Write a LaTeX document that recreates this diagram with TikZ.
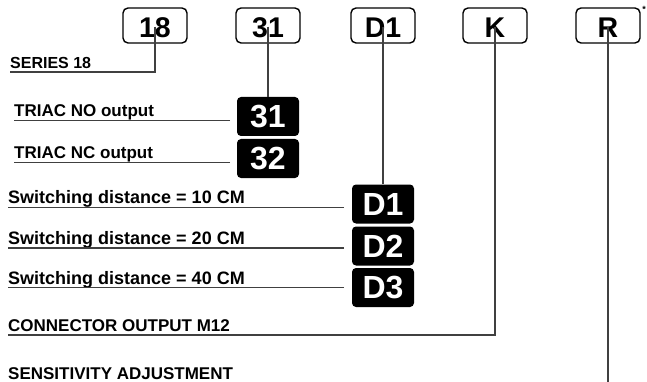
\documentclass[tikz,border=0pt]{standalone}
\usepackage{fontspec}
\setmainfont{Liberation Sans}
\newcommand{\lowr}[1]{\raisebox{-2pt}[\height][0pt]{#1}}
\begin{document}
\begin{tikzpicture}[x=1pt,y=-1pt,
  codebox/.style={draw=black,line width=1.4pt,rounded corners=5pt,minimum width=64pt,minimum height=35pt,inner sep=0pt,font=\fontsize{28.5}{28.5}\selectfont\bfseries},
  optbox/.style={fill=black,text=white,rounded corners=4pt,minimum width=62pt,minimum height=39pt,inner sep=0pt,font=\fontsize{32}{32}\selectfont\bfseries},
  lbl/.style={anchor=base west,inner sep=0pt,font=\fontsize{17}{17}\selectfont\bfseries},
  swlbl/.style={lbl,font=\fontsize{18}{18}\selectfont\bfseries},
  conn/.style={draw=black!75,line width=1.3pt}]
\useasboundingbox (0,0) rectangle (647,382);
% code boxes
\node[codebox] (b18) at (155,25.5) {\lowr{18}};
\node[codebox] (b31) at (268,25.5) {\lowr{31}};
\node[codebox] (bD1) at (383,25.5) {\lowr{D1}};
\node[codebox] (bK) at (495,25.5) {\lowr{K}};
\node[codebox] (bR) at (608,25.5) {\lowr{R}};
\node[inner sep=0pt,font=\fontsize{9}{9}\selectfont\bfseries] (ast) at (644,9) {*};
% option boxes
\node[optbox] (o31) at (268,116.5) {31};
\node[optbox] (o32) at (268,158.5) {32};
\node[optbox] (oD1) at (383,204) {D1};
\node[optbox] (oD2) at (383,246) {D2};
\node[optbox] (oD3) at (383,287.5) {D3};
% labels
\node[lbl,font=\fontsize{16}{16}\selectfont\bfseries] (l18) at (10,68.3) {SERIES 18};
\node[lbl] (l31) at (14,116.5) {TRIAC NO output};
\node[lbl] (l32) at (14,159) {TRIAC NC output};
\node[swlbl] (lD1) at (8,203.5) {Switching distance = 10 CM};
\node[swlbl] (lD2) at (8,244.5) {Switching distance = 20 CM};
\node[swlbl] (lD3) at (8,284) {Switching distance = 40 CM};
\node[lbl] (lK) at (8,331) {CONNECTOR OUTPUT M12};
\node[lbl] (lR) at (8,379.5) {SENSITIVITY ADJUSTMENT};
% connector end points
\coordinate (e18) at (10,72);
\coordinate (e31) at (230,120.5);
\coordinate (e32) at (230,162.5);
\coordinate (eD1) at (344,207.5);
\coordinate (eD2) at (344,248);
\coordinate (eD3) at (344,287.5);
\coordinate (eK) at (8,335);
\coordinate (eR) at (608,382);
% connectors
\draw[conn] ([yshift=17pt]b18.south) |- (e18);
\draw[conn] ([yshift=17pt]b31.south) -- (o31.north);
\draw[conn] ([yshift=17pt]bD1.south) -- (oD1.north);
\draw[conn] ([yshift=17pt]bK.south) |- (eK);
\draw[conn] ([yshift=17pt]bR.south) -- (eR);
\draw[conn] (e31) -- (e31 -| l31.west);
\draw[conn] (e32) -- (e32 -| l32.west);
\draw[conn] (eD1) -- (eD1 -| lD1.west);
\draw[conn] (eD2) -- (eD2 -| lD2.west);
\draw[conn] (eD3) -- (eD3 -| lD3.west);
\end{tikzpicture}
\end{document}
